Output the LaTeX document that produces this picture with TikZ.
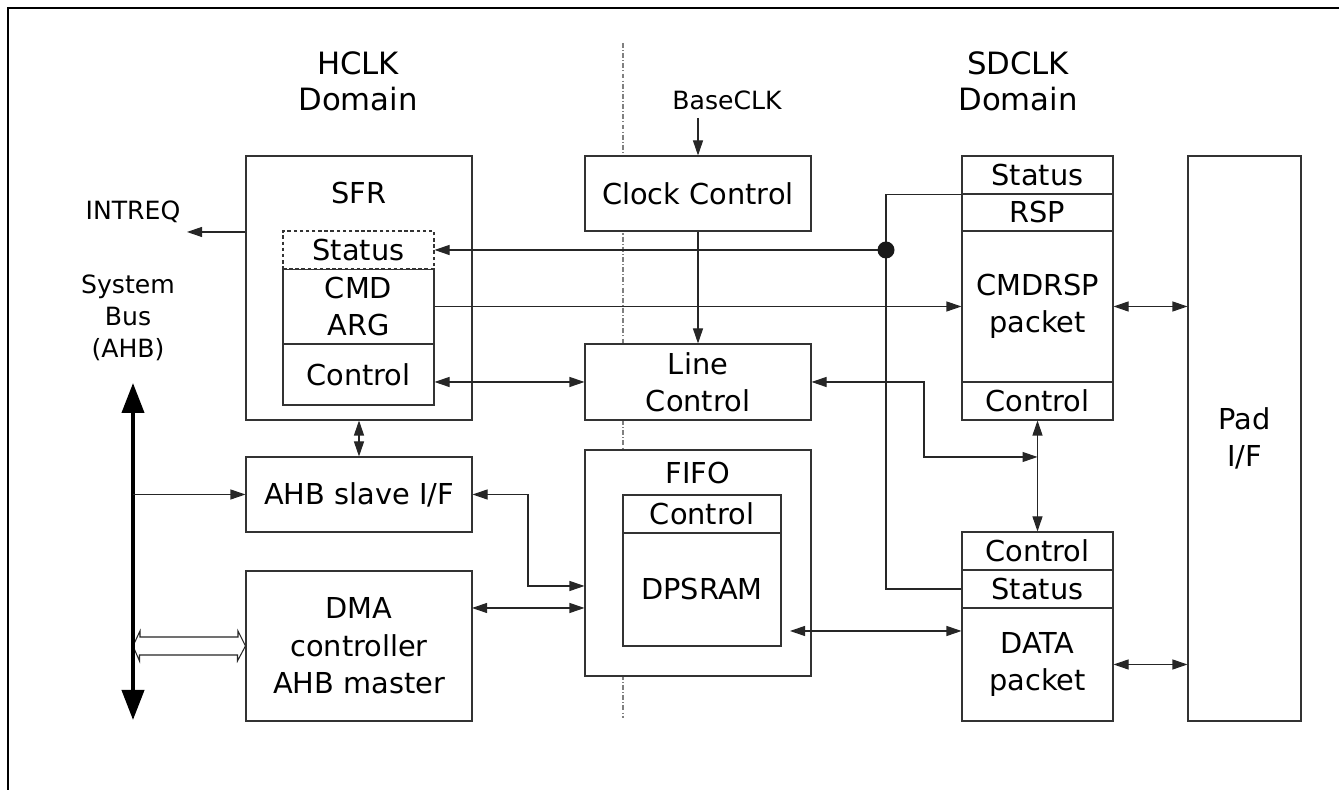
\documentclass[tikz,border=0pt]{standalone}
\usepackage{fontspec}
\setmainfont{DejaVu Sans}
\usetikzlibrary{arrows.meta}
\tikzset{
  blk/.style={draw=black!80,fill=white,line width=0.6pt,inner sep=0pt,align=center,font=\fontsize{16.4}{21.3}\selectfont},
  ttl/.style={inner sep=0pt,font=\fontsize{16.4}{21.3}\selectfont},
  dom/.style={inner sep=0pt,align=center,font=\fontsize{17.5}{20.6}\selectfont},
  lbl/.style={inner sep=0pt,align=center,font=\fontsize{14.3}{18.2}\selectfont},
  sig/.style={line width=0.6pt,draw=black!85,>={Triangle[length=3mm,width=2mm]},->},
  bsig/.style={sig,<->},
  wire/.style={line width=0.6pt,draw=black!85},
  bus/.style={line width=2.3pt,{Triangle[length=6mm,width=4.4mm]}-{Triangle[length=6mm,width=4.4mm]}},
  hol/.style={line width=0.6pt,draw=black!85,fill=white,line join=miter},
  dsh/.style={dash pattern=on 2pt off 1.5pt},
  dline/.style={line width=0.6pt,black!50,dash pattern=on 2.8pt off 1.2pt on 0.6pt off 1.2pt}
}

\begin{document}
\begin{tikzpicture}
\useasboundingbox (0,0) rectangle (26.78,15.8);
\draw[line width=1.2pt] (0.16,0) -- (0.16,15.64) -- (26.78,15.64);
\draw[dline] (12.46,14.94) -- (12.46,1.44);

\node[dom] (hclk) at (7.16,14.17) {HCLK\\Domain};
\node[dom] (sdclk) at (20.36,14.17) {SDCLK\\Domain};

\node[blk,minimum width=4.52cm,minimum height=5.28cm] (sfr) at (7.18,10.04) {};
\node[ttl] (sfrlbl) at (7.18,11.94) {SFR};
\node[blk,minimum width=3.02cm,minimum height=1.50cm] (sfrcmd) at (7.17,9.67) {CMD\\ARG};
\node[blk,dsh,minimum width=3.02cm,minimum height=0.76cm] (sfrstat) at (7.17,10.80) {Status};
\node[blk,minimum width=3.02cm,minimum height=1.22cm] (sfrctl) at (7.17,8.31) {Control};
\node[blk,minimum width=4.52cm,minimum height=1.50cm] (ahbs) at (7.18,5.91) {AHB slave I/F};
\node[blk,minimum width=4.52cm,minimum height=3.00cm] (dma) at (7.18,2.88) {DMA\\controller\\AHB master};

\node[lbl] (intreq) at (2.66,11.56) {INTREQ};
\node[lbl] (sysbus) at (2.56,9.44) {System\\Bus\\(AHB)};

\node[blk,minimum width=4.52cm,minimum height=1.50cm] (clkctl) at (13.96,11.93) {Clock Control};
\node[lbl] (baseclk) at (14.54,13.80) {BaseCLK};
\node[blk,minimum width=4.52cm,minimum height=1.52cm] (linectl) at (13.96,8.16) {Line\\Control};
\node[blk,minimum width=4.52cm,minimum height=4.52cm] (fifo) at (13.96,4.54) {};
\node[ttl] (fifolbl) at (13.96,6.34) {FIFO};
\node[blk,minimum width=3.16cm,minimum height=0.76cm] (fifoctl) at (14.04,5.52) {Control};
\node[blk,minimum width=3.16cm,minimum height=2.26cm] (dpsram) at (14.04,4.01) {DPSRAM};

\node[blk,minimum width=3.02cm,minimum height=0.76cm] (rspstat) at (20.75,12.30) {Status};
\node[blk,minimum width=3.02cm,minimum height=0.74cm] (rsp) at (20.75,11.55) {RSP};
\node[blk,minimum width=3.02cm,minimum height=3.02cm] (cmdrsp) at (20.75,9.67) {CMDRSP\\packet};
\node[blk,minimum width=3.02cm,minimum height=0.76cm] (rspctl) at (20.75,7.78) {Control};
\node[blk,minimum width=3.02cm,minimum height=0.76cm] (datctl) at (20.75,4.78) {Control};
\node[blk,minimum width=3.02cm,minimum height=0.76cm] (datstat) at (20.75,4.02) {Status};
\node[blk,minimum width=3.02cm,minimum height=2.26cm] (datpkt) at (20.75,2.51) {DATA\\packet};
\node[blk,minimum width=2.26cm,minimum height=11.30cm] (pad) at (24.89,7.03) {Pad\\I/F};

\coordinate (intout) at (3.74,11.16);
\coordinate (bustop) at (2.66,8.14);
\coordinate (busbot) at (2.66,1.40);
\coordinate (clkin) at (13.96,13.44);
\coordinate (jn) at (17.72,10.80);
\coordinate (lcbend) at (18.48,6.66);
\coordinate (ctlmid) at (20.75,6.66);
\coordinate (fbend) at (10.56,4.08);
\coordinate (dmaport) at (9.44,3.64);
\coordinate (dpport) at (15.80,3.18);

\draw[hol] (bustop |- dma.west) -- ++(0.14,0.30) -- ++(0,-0.12) -- ++(1.96,0) -- ++(0,0.12)
  -- (dma.west) -- ++(-0.16,-0.30) -- ++(0,0.12) -- ++(-1.96,0) -- ++(0,-0.12) -- cycle;
\draw[bus] (busbot) -- (bustop);
\draw[sig] (bustop |- ahbs.west) -- (ahbs.west);
\draw[sig] (sfr.west |- intout) -- (intout);

\draw[sig] (clkin) -- (clkctl.north);
\draw[sig] (clkctl.south) -- (linectl.north);
\draw[bsig] (sfrctl.east |- linectl.west) -- (linectl.west);
\draw[sig] (sfrcmd.east) -- (cmdrsp.west);
\draw[sig] (jn) -- (sfrstat.east);
\draw[wire] (rspstat.south west) -| (jn |- datstat.west) -- (datstat.west);
\fill[black!90] (jn) circle (0.17);
\draw[bsig] (linectl.east) -| (lcbend) -- (ctlmid);
\draw[bsig] (rspctl.south) -- (datctl.north);
\draw[bsig] (cmdrsp.east) -- (cmdrsp.east -| pad.west);
\draw[bsig] (datpkt.east) -- (datpkt.east -| pad.west);
\draw[bsig] (sfr.south) -- (ahbs.north);
\draw[bsig] (ahbs.east) -| (fbend) -- (fbend -| fifo.west);
\draw[bsig] (dmaport) -- (dmaport -| fifo.west);
\draw[bsig] (dpport) -- (dpport -| datpkt.west);
\end{tikzpicture}
\end{document}
